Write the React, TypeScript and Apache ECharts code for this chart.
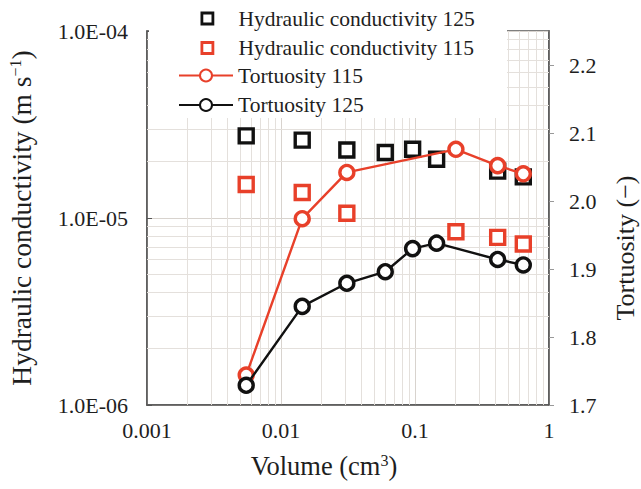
import React, { useEffect, useRef } from "react";
import * as echarts from "echarts";

// ---- data ----
const volume125 = [0.0055, 0.0144, 0.031, 0.06, 0.096, 0.145, 0.414, 0.643];
const volume115 = [0.0055, 0.0144, 0.031, 0.202, 0.414, 0.643];
const hydraulic125 = [2.75e-5, 2.61e-5, 2.31e-5, 2.24e-5, 2.33e-5, 2.06e-5, 1.78e-5, 1.66e-5];
const hydraulic115 = [1.51e-5, 1.37e-5, 1.06e-5, 8.45e-6, 7.88e-6, 7.26e-6];
const tortuosity115 = [1.744, 1.974, 2.042, 2.076, 2.052, 2.04];
const tortuosity125 = [1.729, 1.845, 1.879, 1.896, 1.93, 1.938, 1.914, 1.906];

const xTickLabels = ["0.001", "0.01", "0.1", "1"];
const yTickLabels = ["1.0E-06", "1.0E-05", "1.0E-04"];
const legendNames = [
  "Hydraulic conductivity 125",
  "Hydraulic conductivity 115",
  "Tortuosity 115",
  "Tortuosity 125",
];

const FONT = "Liberation Serif";
const RED = "#e8402a";
const BLACK = "#111111";
const AXIS = "#555555";
const GRID = "#e4e0dc";
const TEXT = "#1e1e1e";

const X_MIN = 0.001;
const X_MAX = 1;
const Y_MIN = 1e-6;
const Y_MAX = 1e-4;

// minor log gridline values (2..9 in each decade)
const minorValues = (fromExp: number, toExp: number) => {
  const out: number[] = [];
  for (let e = fromExp; e < toExp; e++) {
    for (let m = 2; m <= 9; m++) out.push(m * Math.pow(10, e));
  }
  return out;
};

const zip = (xs: number[], ys: number[]) => xs.map((x, i) => [x, ys[i]]);

export default function App() {
  const ref = useRef<HTMLDivElement>(null);
  useEffect(() => {
    document.body.style.margin = "0";
    if (!ref.current) return;
    const chart = echarts.init(ref.current, undefined, { renderer: "svg" });

    const legendText = { fontFamily: FONT, fontSize: 21.5, lineHeight: 21, color: TEXT };

    const gridLines = [
      ...minorValues(-3, 0).map((v) => [{ coord: [v, Y_MIN] }, { coord: [v, Y_MAX] }]),
      ...minorValues(-6, -4).map((v) => [{ coord: [X_MIN, v] }, { coord: [X_MAX, v] }]),
    ];

    const pointStyle = (c: string) => ({ color: "#fff", borderColor: c, borderWidth: 3.4, opacity: 1 });

    chart.setOption({
      animation: false,
      backgroundColor: "#fff",
      grid: {
        left: 147,
        right: 92,
        top: 31,
        bottom: 84,
        containLabel: false,
        outerBoundsMode: "none",
        show: true,
        borderColor: AXIS,
        borderWidth: 1.5,
        backgroundColor: "transparent",
      },
      legend: [
        {
          orient: "vertical",
          left: 200.5,
          top: 7.5,
          padding: 0,
          itemWidth: 11,
          itemHeight: 11,
          itemGap: 7.5,
          selectedMode: false,
          itemStyle: { borderWidth: 2.8, opacity: 1 },
          textStyle: { ...legendText, padding: [0, 0, 0, 20.5] },
          data: [{ name: legendNames[0], icon: "rect" }, { name: legendNames[1], icon: "rect" }],
          z: 10,
        },
        {
          orient: "vertical",
          left: 178,
          top: 64.5,
          padding: 0,
          itemWidth: 54,
          itemHeight: 15,
          itemGap: 7.5,
          selectedMode: false,
          textStyle: legendText,
          data: [{ name: legendNames[2] }, { name: legendNames[3] }],
          z: 10,
        },
      ],
      graphic: [
        {
          type: "rect",
          shape: { x: 149, y: 20, width: 358, height: 98 },
          style: { fill: "#fff" },
          z: 2,
          silent: true,
        },
      ],
      xAxis: {
        type: "log",
        logBase: 10,
        min: X_MIN,
        max: X_MAX,
        name: "Volume (cm{sup|3})",
        nameLocation: "middle",
        nameGap: 47,
        nameTextStyle: {
          fontFamily: FONT,
          fontSize: 26.5,
          color: TEXT,
          padding: [0, 48, 0, 0],
          rich: { sup: { fontSize: 16, verticalAlign: "top", fontFamily: FONT, color: TEXT } },
        },
        axisLine: { show: true, lineStyle: { color: AXIS, width: 1.5 } },
        axisTick: { show: false },
        axisLabel: {
          fontFamily: FONT,
          fontSize: 22,
          color: TEXT,
          margin: 14,
          formatter: (v: number) => xTickLabels[Math.round(Math.log10(v)) + 3] ?? "",
        },
        splitLine: { show: true, lineStyle: { color: "#d8d3ce", width: 1 } },
      },
      yAxis: [
        {
          type: "log",
          logBase: 10,
          min: Y_MIN,
          max: Y_MAX,
          position: "left",
          name: "Hydraulic conductivity (m s{sup|−1})",
          nameLocation: "middle",
          nameGap: 112,
          nameRotate: 90,
          nameTextStyle: {
            fontFamily: FONT,
            fontSize: 27.5,
            color: TEXT,
            rich: { sup: { fontSize: 16, verticalAlign: "top", fontFamily: FONT, color: TEXT } },
          },
          axisLine: { show: true, lineStyle: { color: AXIS, width: 1.5 } },
          axisTick: { show: true, inside: true, length: 5, lineStyle: { color: AXIS } },
          axisLabel: {
            fontFamily: FONT,
            fontSize: 22,
            color: TEXT,
            margin: 19,
            formatter: (v: number) => yTickLabels[Math.round(Math.log10(v)) + 6] ?? "",
          },
          splitLine: { show: true, lineStyle: { color: "#d8d3ce", width: 1 } },
        },
        {
          type: "value",
          min: 1.7,
          max: 2.25,
          interval: 0.1,
          position: "right",
          name: "Tortuosity (−)",
          nameLocation: "middle",
          nameGap: 63,
          nameRotate: 90,
          nameTextStyle: {
            fontFamily: FONT,
            fontSize: 26,
            color: TEXT,
            padding: [0, 60, 0, 0],
          },
          axisLine: { show: true, lineStyle: { color: AXIS, width: 1.5 } },
          axisTick: { show: true, inside: false, length: 5, lineStyle: { color: "#999" } },
          axisLabel: {
            fontFamily: FONT,
            fontSize: 22,
            color: TEXT,
            margin: 20,
            showMaxLabel: false,
            formatter: (v: number) => v.toFixed(1),
          },
          splitLine: { show: false },
        },
      ],
      series: [
        {
          name: "grid-minor",
          type: "line",
          data: [],
          z: 1,
          silent: true,
          markLine: {
            silent: true,
            z: 1,
            symbol: ["none", "none"],
            label: { show: false },
            lineStyle: { color: GRID, width: 1, type: "solid" },
            emphasis: { disabled: true },
            animation: false,
            data: gridLines,
          },
        },
        {
          name: legendNames[0],
          type: "scatter",
          yAxisIndex: 0,
          z: 3,
          symbol: "rect",
          symbolSize: 14,
          itemStyle: pointStyle(BLACK),
          data: zip(volume125, hydraulic125),
        },
        {
          name: legendNames[1],
          type: "scatter",
          yAxisIndex: 0,
          z: 3,
          symbol: "rect",
          symbolSize: 14,
          itemStyle: pointStyle(RED),
          data: zip(volume115, hydraulic115),
        },
        {
          name: legendNames[2],
          type: "line",
          yAxisIndex: 1,
          z: 4,
          symbol: "circle",
          symbolSize: 14,
          showAllSymbol: true,
          lineStyle: { color: RED, width: 2.4 },
          itemStyle: pointStyle(RED),
          data: zip(volume115, tortuosity115),
        },
        {
          name: legendNames[3],
          type: "line",
          yAxisIndex: 1,
          z: 5,
          symbol: "circle",
          symbolSize: 14,
          showAllSymbol: true,
          lineStyle: { color: BLACK, width: 2.4 },
          itemStyle: pointStyle(BLACK),
          data: zip(volume125, tortuosity125),
        },
      ],
    });
    return () => chart.dispose();
  }, []);
  return <div ref={ref} style={{ width: 641, height: 489 }} />;
}
